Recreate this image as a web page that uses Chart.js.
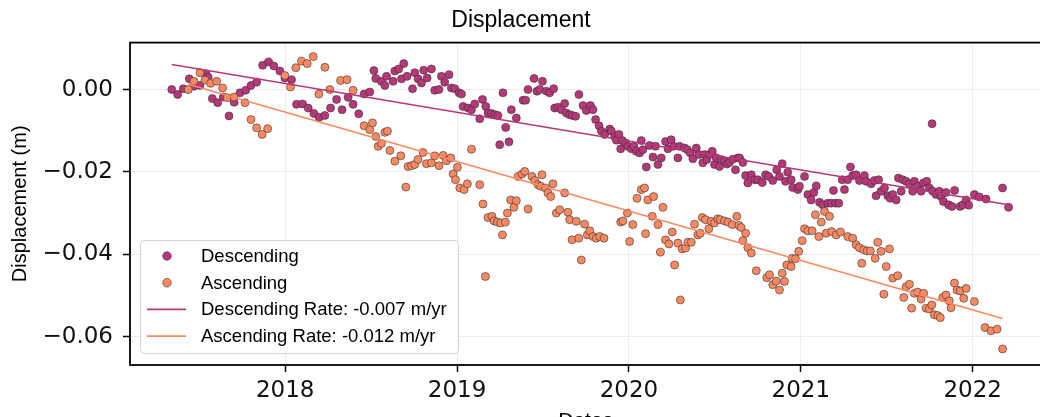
<!DOCTYPE html>
<html lang="en">
<head>
<meta charset="UTF-8">
<title>Displacement</title>
<script src="https://cdn.jsdelivr.net/npm/chart.js"></script>
<style>
    body {
        margin: 0;
        background: white;
        overflow: hidden;
    }
    #wrap {
        width: 1040px;
        height: 417px;
        overflow: hidden;
    }
</style>
</head>
<body>
<div id="wrap"><canvas id="dispChart" width="1046" height="445"></canvas></div>
<script>
    // decimal years + displacement in metres
    const descDates = [
        2017.340, 2017.374, 2017.407, 2017.442, 2017.469, 2017.504, 2017.539, 2017.552, 2017.576, 2017.607,
        2017.640, 2017.673, 2017.703, 2017.737, 2017.770, 2017.801, 2017.834, 2017.869, 2017.903, 2017.934,
        2017.969, 2017.998, 2018.037, 2018.066, 2018.101, 2018.134, 2018.167, 2018.198, 2018.231, 2018.264,
        2018.299, 2018.331, 2018.366, 2018.395, 2018.428, 2018.459, 2018.492, 2018.516, 2018.527, 2018.560,
        2018.580, 2018.590, 2018.628, 2018.638, 2018.661, 2018.677, 2018.690, 2018.709, 2018.741, 2018.754,
        2018.773, 2018.793, 2018.806, 2018.826, 2018.851, 2018.870, 2018.895, 2018.909, 2018.928, 2018.953,
        2018.967, 2018.987, 2019.012, 2019.026, 2019.035, 2019.064, 2019.084, 2019.103, 2019.132, 2019.148,
        2019.167, 2019.180, 2019.200, 2019.219, 2019.238, 2019.248, 2019.267, 2019.283, 2019.302, 2019.316,
        2019.345, 2019.384, 2019.399, 2019.413, 2019.448, 2019.465, 2019.481, 2019.497, 2019.520, 2019.539,
        2019.562, 2019.568, 2019.587, 2019.607, 2019.626, 2019.636, 2019.655, 2019.671, 2019.690, 2019.709,
        2019.733, 2019.752, 2019.776, 2019.791, 2019.806, 2019.826, 2019.840, 2019.859, 2019.888, 2019.898,
        2019.917, 2019.927, 2019.942, 2019.952, 2019.962, 2019.981, 2019.994, 2020.014, 2020.029, 2020.043,
        2020.062, 2020.072, 2020.081, 2020.101, 2020.120, 2020.140, 2020.155, 2020.169, 2020.188, 2020.213,
        2020.227, 2020.246, 2020.260, 2020.285, 2020.295, 2020.324, 2020.340, 2020.357, 2020.372, 2020.392,
        2020.407, 2020.430, 2020.440, 2020.453, 2020.469, 2020.485, 2020.498, 2020.508, 2020.527, 2020.537,
        2020.556, 2020.570, 2020.585, 2020.605, 2020.620, 2020.634, 2020.644, 2020.663, 2020.679, 2020.692,
        2020.712, 2020.731, 2020.750, 2020.776, 2020.795, 2020.814, 2020.837, 2020.860, 2020.876, 2020.892,
        2020.911, 2020.924, 2020.944, 2020.953, 2020.983, 2020.992, 2021.022, 2021.041, 2021.060, 2021.076,
        2021.090, 2021.109, 2021.128, 2021.157, 2021.177, 2021.190, 2021.202, 2021.221, 2021.241, 2021.254,
        2021.273, 2021.289, 2021.302, 2021.322, 2021.341, 2021.370, 2021.380, 2021.409, 2021.428, 2021.438,
        2021.453, 2021.467, 2021.487, 2021.506, 2021.520, 2021.535, 2021.555, 2021.568, 2021.584, 2021.593,
        2021.613, 2021.632, 2021.651, 2021.661, 2021.680, 2021.700, 2021.713, 2021.733, 2021.748, 2021.764,
        2021.767, 2021.787, 2021.806, 2021.816, 2021.830, 2021.845, 2021.860, 2021.880, 2021.895, 2021.927,
        2021.942, 2021.962, 2021.977, 2022.010, 2022.039, 2022.078, 2022.174, 2022.209
    ];
    const descValues = [
        0.0000, -0.0012, 0.0002, 0.0026, 0.0008, 0.0010, 0.0038, 0.0030, -0.0022, -0.0032,
        -0.0018, -0.0064, -0.0031, -0.0008, -0.0002, 0.0010, 0.0018, 0.0059, 0.0067, 0.0057,
        0.0045, 0.0028, 0.0024, -0.0036, -0.0035, -0.0045, -0.0058, -0.0067, -0.0063, -0.0045,
        -0.0024, -0.0049, -0.0019, -0.0036, -0.0059, -0.0011, -0.0006, 0.0046, 0.0027, 0.0020,
        0.0010, 0.0032, 0.0020, 0.0045, 0.0050, 0.0026, 0.0063, 0.0032, 0.0002, 0.0041,
        0.0026, 0.0016, 0.0047, 0.0028, 0.0050, -0.0002, 0.0000, 0.0032, 0.0018, 0.0036,
        0.0004, 0.0002, -0.0008, -0.0011, -0.0041, -0.0045, -0.0049, -0.0035, -0.0071, -0.0024,
        -0.0041, -0.0057, -0.0058, -0.0061, -0.0063, -0.0134, -0.0008, -0.0092, -0.0127, -0.0049,
        -0.0069, -0.0026, -0.0026, 0.0000, 0.0027, -0.0004, 0.0000, 0.0020, -0.0004, -0.0008,
        0.0002, -0.0045, -0.0043, -0.0049, -0.0034, -0.0057, -0.0061, -0.0063, -0.0065, -0.0012,
        -0.0039, -0.0051, -0.0039, -0.0049, -0.0073, -0.0088, -0.0101, -0.0109, -0.0096, -0.0101,
        -0.0114, -0.0123, -0.0109, -0.0144, -0.0124, -0.0130, -0.0138, -0.0144, -0.0138, -0.0150,
        -0.0154, -0.0124, -0.0146, -0.0188, -0.0136, -0.0164, -0.0138, -0.0182, -0.0166, -0.0126,
        -0.0144, -0.0122, -0.0138, -0.0166, -0.0138, -0.0142, -0.0146, -0.0154, -0.0168, -0.0142,
        -0.0158, -0.0178, -0.0158, -0.0170, -0.0158, -0.0150, -0.0182, -0.0166, -0.0187, -0.0170,
        -0.0174, -0.0181, -0.0177, -0.0169, -0.0195, -0.0166, -0.0166, -0.0177, -0.0209, -0.0227,
        -0.0207, -0.0219, -0.0219, -0.0226, -0.0207, -0.0211, -0.0221, -0.0195, -0.0211, -0.0180,
        -0.0223, -0.0201, -0.0219, -0.0238, -0.0243, -0.0235, -0.0211, -0.0255, -0.0268, -0.0250,
        -0.0234, -0.0274, -0.0280, -0.0276, -0.0276, -0.0245, -0.0276, -0.0276, -0.0219, -0.0243,
        -0.0219, -0.0188, -0.0209, -0.0207, -0.0221, -0.0209, -0.0223, -0.0229, -0.0221, -0.0258,
        -0.0219, -0.0247, -0.0239, -0.0258, -0.0264, -0.0255, -0.0268, -0.0215, -0.0247, -0.0219,
        -0.0223, -0.0229, -0.0247, -0.0223, -0.0235, -0.0247, -0.0227, -0.0223, -0.0239, -0.0083,
        -0.0247, -0.0255, -0.0247, -0.0260, -0.0272, -0.0250, -0.0280, -0.0284, -0.0245, -0.0284,
        -0.0280, -0.0268, -0.0281, -0.0255, -0.0261, -0.0266, -0.0239, -0.0286
    ];

    const ascDates = [
        2017.436, 2017.469, 2017.504, 2017.533, 2017.566, 2017.601, 2017.636, 2017.663, 2017.702, 2017.766,
        2017.801, 2017.834, 2017.866, 2017.898, 2017.998, 2018.031, 2018.062, 2018.095, 2018.128, 2018.163,
        2018.196, 2018.231, 2018.260, 2018.322, 2018.360, 2018.395, 2018.459, 2018.492, 2018.508, 2018.527,
        2018.541, 2018.560, 2018.580, 2018.595, 2018.609, 2018.638, 2018.673, 2018.702, 2018.715, 2018.735,
        2018.754, 2018.773, 2018.802, 2018.822, 2018.851, 2018.870, 2018.895, 2018.919, 2018.938, 2018.963,
        2018.977, 2018.991, 2019.002, 2019.016, 2019.041, 2019.060, 2019.084, 2019.132, 2019.151, 2019.165,
        2019.180, 2019.203, 2019.215, 2019.235, 2019.254, 2019.264, 2019.281, 2019.293, 2019.312, 2019.331,
        2019.345, 2019.355, 2019.378, 2019.394, 2019.413, 2019.436, 2019.452, 2019.471, 2019.487, 2019.494,
        2019.514, 2019.529, 2019.545, 2019.558, 2019.578, 2019.597, 2019.626, 2019.645, 2019.655, 2019.669,
        2019.694, 2019.708, 2019.723, 2019.742, 2019.758, 2019.772, 2019.791, 2019.810, 2019.830, 2019.855,
        2019.952, 2019.965, 2019.991, 2020.004, 2020.023, 2020.047, 2020.072, 2020.091, 2020.097, 2020.110,
        2020.136, 2020.144, 2020.169, 2020.183, 2020.198, 2020.213, 2020.233, 2020.252, 2020.266, 2020.285,
        2020.299, 2020.310, 2020.330, 2020.343, 2020.363, 2020.382, 2020.401, 2020.415, 2020.427, 2020.446,
        2020.465, 2020.479, 2020.498, 2020.517, 2020.531, 2020.556, 2020.576, 2020.601, 2020.628, 2020.640,
        2020.653, 2020.663, 2020.679, 2020.692, 2020.712, 2020.741, 2020.802, 2020.818, 2020.837, 2020.857,
        2020.876, 2020.892, 2020.905, 2020.919, 2020.944, 2020.950, 2020.969, 2020.988, 2021.008, 2021.022,
        2021.041, 2021.066, 2021.085, 2021.105, 2021.119, 2021.138, 2021.148, 2021.167, 2021.180, 2021.206,
        2021.231, 2021.273, 2021.302, 2021.322, 2021.341, 2021.355, 2021.366, 2021.386, 2021.405, 2021.433,
        2021.448, 2021.467, 2021.483, 2021.497, 2021.516, 2021.535, 2021.564, 2021.599, 2021.613, 2021.632,
        2021.645, 2021.661, 2021.680, 2021.700, 2021.715, 2021.729, 2021.748, 2021.762, 2021.777, 2021.797,
        2021.812, 2021.826, 2021.845, 2021.864, 2021.874, 2021.894, 2021.909, 2021.928, 2021.948, 2021.962,
        2022.010, 2022.072, 2022.107, 2022.142, 2022.174
    ];
    const ascValues = [
        0.0000, 0.0020, 0.0041, 0.0023, 0.0015, 0.0020, 0.0004, -0.0020, -0.0018, -0.0032,
        -0.0073, -0.0093, -0.0109, -0.0095, 0.0034, 0.0006, 0.0053, 0.0069, 0.0063, 0.0080,
        -0.0011, 0.0054, 0.0000, 0.0022, 0.0024, -0.0002, -0.0088, -0.0097, -0.0081, -0.0114,
        -0.0138, -0.0131, -0.0104, -0.0101, -0.0148, -0.0174, -0.0161, -0.0237, -0.0187, -0.0185,
        -0.0182, -0.0170, -0.0153, -0.0180, -0.0178, -0.0161, -0.0185, -0.0160, -0.0173, -0.0166,
        -0.0205, -0.0219, -0.0189, -0.0239, -0.0243, -0.0229, -0.0145, -0.0231, -0.0278, -0.0454,
        -0.0311, -0.0308, -0.0319, -0.0322, -0.0324, -0.0353, -0.0322, -0.0300, -0.0268, -0.0286,
        -0.0270, -0.0211, -0.0205, -0.0199, -0.0290, -0.0211, -0.0221, -0.0231, -0.0235, -0.0207,
        -0.0239, -0.0251, -0.0260, -0.0229, -0.0300, -0.0292, -0.0251, -0.0298, -0.0316, -0.0365,
        -0.0320, -0.0361, -0.0414, -0.0327, -0.0353, -0.0343, -0.0357, -0.0361, -0.0357, -0.0361,
        -0.0322, -0.0319, -0.0300, -0.0369, -0.0328, -0.0264, -0.0243, -0.0239, -0.0350, -0.0268,
        -0.0308, -0.0260, -0.0328, -0.0395, -0.0286, -0.0365, -0.0375, -0.0346, -0.0426, -0.0373,
        -0.0511, -0.0387, -0.0385, -0.0371, -0.0371, -0.0327, -0.0353, -0.0349, -0.0311, -0.0316,
        -0.0338, -0.0320, -0.0324, -0.0314, -0.0316, -0.0319, -0.0322, -0.0328, -0.0308, -0.0330,
        -0.0335, -0.0367, -0.0349, -0.0384, -0.0397, -0.0440, -0.0457, -0.0450, -0.0474, -0.0465,
        -0.0487, -0.0446, -0.0466, -0.0426, -0.0430, -0.0410, -0.0411, -0.0393, -0.0367, -0.0338,
        -0.0343, -0.0343, -0.0304, -0.0357, -0.0322, -0.0296, -0.0349, -0.0308, -0.0345, -0.0353,
        -0.0346, -0.0357, -0.0361, -0.0377, -0.0384, -0.0422, -0.0389, -0.0392, -0.0392, -0.0410,
        -0.0371, -0.0393, -0.0497, -0.0430, -0.0387, -0.0458, -0.0452, -0.0505, -0.0479, -0.0473,
        -0.0531, -0.0495, -0.0492, -0.0509, -0.0495, -0.0531, -0.0533, -0.0523, -0.0547, -0.0549,
        -0.0554, -0.0505, -0.0499, -0.0513, -0.0530, -0.0470, -0.0487, -0.0489, -0.0507, -0.0483,
        -0.0515, -0.0578, -0.0586, -0.0582, -0.0630
    ];

    // fitted rate lines (end points)
    const descRateDates = [2017.340, 2022.209];
    const descRateValues = [0.0061, -0.0280];
    const ascRateDates = [2017.436, 2022.174];
    const ascRateValues = [0.0013, -0.0556];

    const xTickYears = [2018, 2019, 2020, 2021, 2022];
    const yTickValues = [0, -0.02, -0.04, -0.06];

    const descColor = '#b73779';
    const ascColor = '#fc8961';

    function toPoints(xs, ys) {
        return xs.map((x, i) => ({ x: x, y: ys[i] }));
    }

    // box around the axes + legend in the lower left corner
    const frameAndLegend = {
        id: 'frameAndLegend',
        afterDraw(chart) {
            const ctx = chart.ctx;
            const a = chart.chartArea;
            ctx.save();
            ctx.strokeStyle = '#000';
            ctx.lineWidth = 1.8;
            ctx.strokeRect(a.left, a.top, a.right - a.left, a.bottom - a.top);

            const bx = 140.5, by = 240.5, bw = 318, bh = 113;
            ctx.beginPath();
            if (ctx.roundRect) ctx.roundRect(bx, by, bw, bh, 4);
            else ctx.rect(bx, by, bw, bh);
            ctx.fillStyle = 'rgba(255,255,255,0.8)';
            ctx.fill();
            ctx.strokeStyle = '#d4d4d4';
            ctx.lineWidth = 1;
            ctx.stroke();

            ctx.font = '18.5px "Liberation Sans", Arial, sans-serif';
            ctx.textBaseline = 'middle';
            chart.data.datasets.forEach((ds, i) => {
                const y = 256 + i * 26.7;
                if (ds.showLine) {
                    ctx.strokeStyle = ds.borderColor;
                    ctx.lineWidth = 1.6;
                    ctx.beginPath();
                    ctx.moveTo(147, y);
                    ctx.lineTo(186, y);
                    ctx.stroke();
                } else {
                    ctx.beginPath();
                    ctx.arc(167, y, 4.3, 0, Math.PI * 2);
                    ctx.fillStyle = ds.backgroundColor;
                    ctx.fill();
                    ctx.strokeStyle = '#333';
                    ctx.lineWidth = 0.6;
                    ctx.stroke();
                }
                ctx.fillStyle = '#000';
                ctx.fillText(ds.label, 201, y + 1);
            });
            ctx.restore();
        }
    };

    const tickFont = { family: '"DejaVu Sans", sans-serif', size: 23 };
    const labelFont = { family: '"Liberation Sans", Arial, sans-serif', size: 21 };

    const ctx = document.getElementById('dispChart').getContext('2d');
    const dispChart = new Chart(ctx, {
        type: 'scatter',
        data: {
            datasets: [
                {
                    label: 'Descending',
                    data: toPoints(descDates, descValues),
                    backgroundColor: descColor,
                    borderColor: '#333',
                    pointRadius: 4,
                    pointBorderWidth: 0.6,
                    pointBorderColor: '#333',
                    order: 3
                },
                {
                    label: 'Ascending',
                    data: toPoints(ascDates, ascValues),
                    backgroundColor: ascColor,
                    borderColor: '#333',
                    pointRadius: 4,
                    pointBorderWidth: 0.6,
                    pointBorderColor: '#333',
                    order: 2
                },
                {
                    label: 'Descending Rate: -0.007 m/yr',
                    data: toPoints(descRateDates, descRateValues),
                    showLine: true,
                    borderColor: descColor,
                    borderWidth: 1.6,
                    pointRadius: 0,
                    order: 1
                },
                {
                    label: 'Ascending Rate: -0.012 m/yr',
                    data: toPoints(ascRateDates, ascRateValues),
                    showLine: true,
                    borderColor: ascColor,
                    borderWidth: 1.6,
                    pointRadius: 0,
                    order: 0
                }
            ]
        },
        options: {
            responsive: false,
            animation: false,
            devicePixelRatio: 1,
            layout: { padding: { top: 0, right: 4, bottom: 0, left: 0 } },
            plugins: {
                legend: { display: false },
                tooltip: { enabled: false },
                title: {
                    display: true,
                    text: 'Displacement',
                    color: '#000',
                    font: { family: '"Liberation Sans", Arial, sans-serif', size: 23, weight: 'normal' },
                    padding: { top: 7, bottom: 8 }
                }
            },
            scales: {
                x: {
                    type: 'linear',
                    min: 2017.097,
                    max: 2022.40,
                    afterFit(scale) { scale.height = 80; },
                    afterBuildTicks(scale) { scale.ticks = xTickYears.map(v => ({ value: v })); },
                    grid: { color: '#ececec', lineWidth: 1, tickColor: '#000', tickWidth: 1.5, tickLength: 7 },
                    border: { display: false },
                    ticks: {
                        color: '#111',
                        font: tickFont,
                        padding: 5,
                        maxRotation: 0,
                        callback: v => String(v)
                    },
                    title: {
                        display: true,
                        text: 'Dates',
                        color: '#000',
                        font: labelFont,
                        padding: { top: 0, bottom: 11 }
                    }
                },
                y: {
                    min: -0.0669,
                    max: 0.0114,
                    afterFit(scale) { scale.width = 130; },
                    afterBuildTicks(scale) { scale.ticks = yTickValues.map(v => ({ value: v })); },
                    grid: { color: '#ececec', lineWidth: 1, tickColor: '#000', tickWidth: 1.5, tickLength: 7 },
                    border: { display: false },
                    ticks: {
                        color: '#111',
                        font: tickFont,
                        padding: 10,
                        callback: v => v.toFixed(2).replace('-', '\u2212')
                    },
                    title: {
                        display: true,
                        text: 'Displacement (m)',
                        color: '#000',
                        font: { family: '"Liberation Sans", Arial, sans-serif', size: 20 },
                        padding: { top: 8, bottom: 0 }
                    }
                }
            }
        },
        plugins: [frameAndLegend]
    });
</script>
</body>
</html>
